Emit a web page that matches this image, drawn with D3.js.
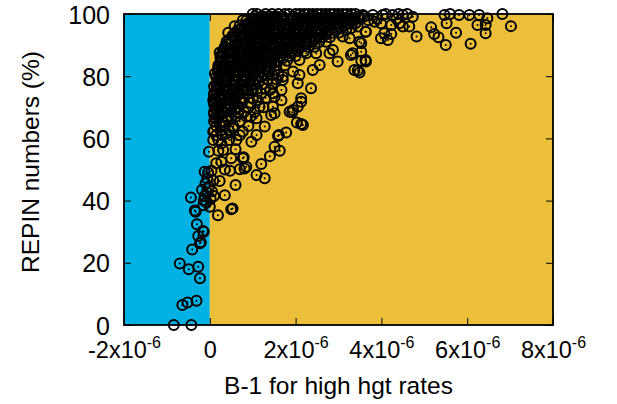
<!DOCTYPE html>
<html>
<head>
<meta charset="utf-8">
<script src="https://cdn.jsdelivr.net/npm/d3@7"></script>
<style>
  body { margin: 0; background: #fff; }
  text { font-family: "Liberation Sans", Arial, sans-serif; fill: #000; }
</style>
</head>
<body>
<svg width="617" height="404"></svg>
<script>
'use strict';

// x values are in units of 1e-6, y values in %
var xTicks = [-2, 0, 2, 4, 6, 8];
var yTicks = [0, 20, 40, 60, 80, 100];

// scattered points (blue side, lower tail, outer edge of cloud)
var scatterPts = [
  [-0.84,0],[-0.43,0],[-0.64,6.4],[-0.52,7.2],[-0.31,7.8],[-0.70,19.8],[-0.49,17.9],[-0.27,18.7],
  [-0.23,15.0],[-0.41,24.3],[-0.21,26.6],[-0.27,28.6],[-0.14,30.0],[-0.30,32.4],[-0.33,36.4],
  [-0.44,41.0],[-0.35,36.8],[-0.16,30.2],[-0.23,26.3],
  [-0.15,38.5],[-0.08,39.5],[-0.12,41.5],[-0.05,42.5],[-0.18,43.5],[-0.02,44.5],[-0.10,45.5],
  [0.02,40.5],[-0.06,47],[0.05,43],[-0.14,40],[0.0,38],[0.08,46.5],[-0.04,49],[0.1,41.5],
  [0.19,35.3],[0.50,37.2],[0.35,41.7],[0.53,37.5],[0.60,45],[0.23,46.3],[0.04,49.6],[-0.12,49.3],
  [0.47,49.6],[0.70,50.1],[0.85,50.9],[0.50,53.6],[0.77,53.6],[0.27,52.5],[0.81,50.3],[-0.02,55.7],
  [0.31,56.3],[0.27,58.4],[0.08,59.5],[0.08,62.2],[0.39,61.6],[0.62,59.5],[0.97,58.9],[1.09,48.2],
  [1.28,47.2],[1.20,51.8],[1.40,54.3],[1.51,57.3],[1.63,56.0],[1.61,61.1],[1.78,61.9],[1.92,68.4],
  [2.03,65.1],[2.13,64.6],[2.17,64.3],[1.43,67.5],[1.28,63.8],[1.09,61.1],[0.77,62.2],[0.54,63.2],
  [0.23,64.8],[0.12,66.5],[0.14,69.7],[0.85,67.0],[1.09,66.5],[0.43,65.9],[0.66,68.1],[0.47,70.2],
  [0.08,72.3],[1.16,70.2],[1.47,70.2],[0.79,53.9],[0.20,56],[0.15,52],[0.35,50],[0.60,56.5],
  [2.36,76.1],[2.13,71.8],[2.05,70.2],[1.94,69.1],[1.86,68.6],[1.59,60.8],
  [2.98,84.7],[3.37,82.0],[3.49,81.2],[3.64,84.7],[2.56,83.6],[2.40,82.0],[2.09,80.4],[2.05,77.7],
  [1.70,79.8],[1.67,72.3],[1.47,74.5],[1.51,68.1],[2.13,72.9],[3.45,81.8],
  [3.63,85.2],[3.53,87.9],[3.33,87.4],[3.26,92.2],[3.49,91.1],[3.63,94.3],[2.87,88.4],[2.71,91.1],
  [3.10,92.8],[3.18,94.9],[2.48,87.4],[2.25,87.4],[2.09,85.2],[1.94,81.5],[1.70,78.8],[3.29,86.8],
  [3.53,85.0],[2.79,87.4],
  [6.82,100],[7.02,96.1],[6.43,93.8],[6.43,96.5],[6.47,98.6],[6.24,96.5],[6.08,90.4],[6.28,99.7],
  [6.05,99.7],[5.81,99.7],[5.74,94.0],[5.52,97.0],[5.47,99.7],[5.50,90.0],[5.33,92.5],[5.23,93.6],
  [5.16,95.7],[4.82,92.8],[4.65,96.0],[4.50,96.0],[4.73,99.1],[4.50,99.7],[4.26,99.7],[4.03,99.7],
  [3.80,99.7],[3.57,99.7],[4.15,91.6],[3.99,92.2],[4.07,93.8],[4.23,93.6],[3.53,90.6],[4.23,96.5],
  [4.42,97.0],[3.99,97.0],[3.84,97.5],[3.64,94.3],[3.45,96.0],[3.70,98.0],
  [0.58,96.1],[0.43,94.0],[0.39,91.1],[0.23,87.6],[0.47,88.4],[0.66,90.6],[0.81,92.7],[0.19,82.0],
  [0.12,80.9],[0.23,79.8],[0.16,76.6],[0.12,72.9],[0.31,75.6],[0.43,74.0],[0.39,71.3],[0.66,84.1],
  [0.54,85.2],[0.74,82.0],[0.81,78.8],[0.97,75.6],[0.66,76.6],[0.58,72.3],[1.12,72.3],[1.51,73.4],
  [1.20,79.9],[1.05,86.3],[1.28,88.4],[0.97,91.6],[0.89,97.0],[1.20,99.1],[0.77,98.0],[1.51,99.1],
  [1.59,94.9],[1.43,92.7],[1.43,84.1],[1.40,75.6],[1.67,75.6]
];

// dense core of the cloud, row by row: [y, x values]
var denseRows = [
  [100,  [1.0,1.1,1.3,1.45,1.6,1.75,1.85,2.0,2.1,2.2,2.3,2.4,2.5,2.6,2.7,2.8,2.9,3.0,3.1,3.2,3.3,3.4,4.1,4.4,4.6,5.6]],
  [99.2, [1.05,1.25,1.4,1.55,1.7,1.95,2.15,2.35,2.45,2.65,2.75,2.95,3.05,3.25,3.45,3.6]],
  [98.5, [1.0,1.2,1.35,1.5,1.7,1.9,2.05,2.25,2.4,2.55,2.7,2.85,3.0,3.15,3.3,3.5,3.9,4.35]],
  [97.8, [0.85,1.05,1.2,1.4,1.55,1.75,1.9,2.1,2.3,2.45,2.6,2.75,2.9,3.05,3.2,3.35]],
  [97,   [0.95,1.1,1.3,1.45,1.65,1.8,1.95,2.15,2.35,2.5,2.65,2.8,2.95,3.1,3.25,3.4]],
  [96.3, [0.7,0.85,1.0,1.2,1.35,1.5,1.65,1.85,2.0,2.15,2.3,2.45,2.65,2.8,3.0,3.15]],
  [95.5, [0.75,0.9,1.05,1.25,1.4,1.55,1.75,1.9,2.05,2.2,2.4,2.55,2.7,2.9,3.05,3.3]],
  [94.8, [0.65,0.85,0.95,1.1,1.35,1.45,1.6,1.8,1.95,2.1,2.3,2.45,2.6,2.8,2.95]],
  [94,   [0.6,0.8,1.0,1.15,1.3,1.5,1.7,1.85,2.0,2.2,2.35,2.5,2.7,2.85,3.0]],
  [93.3, [0.55,0.75,0.95,1.05,1.2,1.35,1.55,1.65,1.8,2.0,2.15,2.3,2.55,2.7]],
  [92.5, [0.55,0.7,0.9,1.1,1.25,1.4,1.6,1.75,1.9,2.1,2.25,2.45,2.6,2.8]],
  [91.8, [0.45,0.6,0.8,0.95,1.15,1.3,1.45,1.6,1.8,1.95,2.1,2.3,2.45]],
  [91,   [0.5,0.65,0.85,1.05,1.2,1.35,1.55,1.7,1.85,2.0,2.2,2.35,2.55]],
  [90.3, [0.4,0.6,0.8,1.0,1.1,1.25,1.45,1.6,1.75,1.9,2.05,2.25]],
  [89.5, [0.35,0.55,0.75,0.95,1.15,1.3,1.5,1.65,1.8,1.95,2.1,2.3,2.45]],
  [88.8, [0.35,0.45,0.65,0.8,0.95,1.1,1.25,1.45,1.6,1.7,1.85,2.0]],
  [88,   [0.3,0.5,0.7,0.85,1.0,1.2,1.35,1.55,1.75,1.9,2.05,2.2]],
  [87.3, [0.3,0.4,0.55,0.75,0.9,1.05,1.2,1.4,1.55,1.7,1.9]],
  [86.5, [0.25,0.45,0.6,0.8,0.95,1.1,1.3,1.5,1.65,1.85,2.0]],
  [85.8, [0.25,0.4,0.55,0.75,0.85,1.0,1.15,1.35,1.5,1.7]],
  [85,   [0.3,0.45,0.7,0.9,1.05,1.25,1.4,1.6,1.8]],
  [84.3, [0.25,0.35,0.5,0.65,0.85,1.0,1.2,1.3,1.5]],
  [83.5, [0.2,0.4,0.55,0.8,0.95,1.15,1.35,1.55,1.75]],
  [82.8, [0.2,0.35,0.45,0.6,0.75,1.0,1.2,1.4]],
  [82,   [0.3,0.5,0.65,0.9,1.1,1.3,1.5]],
  [81.3, [0.2,0.35,0.55,0.7,0.85,1.05,1.15,1.35]],
  [80.5, [0.25,0.4,0.6,0.8,1.0,1.25,1.45,1.6]],
  [79.8, [0.15,0.3,0.45,0.65,0.85,1.0,1.2]],
  [79,   [0.2,0.35,0.55,0.75,0.95,1.1,1.35,1.55]],
  [78.3, [0.2,0.4,0.6,0.8,1.0,1.15]],
  [77.5, [0.15,0.3,0.5,0.7,0.9,1.05,1.25,1.45]],
  [76.8, [0.1,0.25,0.35,0.55,0.75,0.95]],
  [76,   [0.2,0.45,0.6,0.85,1.1,1.3]],
  [75.3, [0.15,0.35,0.55,0.8,1.0]],
  [74.5, [0.1,0.25,0.5,0.7,0.9,1.2]],
  [73.8, [0.1,0.3,0.45,0.65]],
  [73,   [0.2,0.35,0.6,0.8,1.0,1.3]],
  [72.3, [0.15,0.25,0.45,0.7]],
  [71.5, [0.1,0.3,0.55,0.75,0.95]],
  [70.8, [0.1,0.25,0.45]],
  [70,   [0.2,0.35,0.65,0.9,1.25]],
  [69.3, [0.15,0.4,0.6]],
  [68.5, [0.1,0.3,0.5,0.8,1.05]],
  [67.8, [0.1,0.25]],
  [67,   [0.2,0.4,0.6,0.95]],
  [66.3, [0.15,0.5]],
  [65.5, [0.1,0.3,0.7]],
  [64,   [0.15,0.35,0.55,0.9]],
  [62.5, [0.1,0.25,0.45]],
  [61,   [0.15,0.3,0.7]],
  [59.5, [0.2,0.45]]
];

var points = scatterPts.slice();
denseRows.forEach(function(r) {
  r[1].forEach(function(v) { points.push([v, r[0]]); });
});

var margin = {left: 124, right: 64, top: 14, bottom: 79};
var width = 617 - margin.left - margin.right;
var height = 404 - margin.top - margin.bottom;

var svg = d3.select('svg');
var canvas = svg.append('g')
    .attr('transform', 'translate(' + margin.left + ',' + margin.top + ')');

var x = d3.scaleLinear().domain([-2e-6, 8e-6]).range([0, width]);
var y = d3.scaleLinear().domain([0, 100]).range([height, 0]);

// background bands
canvas.append('rect')
    .attr('x', x(-2e-6)).attr('y', 0)
    .attr('width', x(0) - x(-2e-6)).attr('height', height)
    .attr('fill', '#00b2e3');
canvas.append('rect')
    .attr('x', x(0)).attr('y', 0)
    .attr('width', x(8e-6) - x(0)).attr('height', height)
    .attr('fill', '#ebbf3a');

function sciLabel(sel, v) {
  sel.text(null);
  if (v === 0) { sel.append('tspan').text('0'); return; }
  sel.append('tspan').text(v + 'x10');
  sel.append('tspan').attr('font-size', 16).attr('dy', -10).text('-6');
}

// axes, ticks pointing inward
var axisX = d3.axisBottom(x)
    .tickValues(xTicks.map(function(d) { return d * 1e-6; }))
    .tickSizeInner(-7).tickSizeOuter(0);
var axisXTop = d3.axisTop(x)
    .tickValues(xTicks.map(function(d) { return d * 1e-6; }))
    .tickSizeInner(-7).tickSizeOuter(0).tickFormat('');
var axisY = d3.axisLeft(y).tickValues(yTicks).tickSizeInner(-7).tickSizeOuter(0);
var axisYRight = d3.axisRight(y).tickValues(yTicks).tickSizeInner(-7).tickSizeOuter(0).tickFormat('');

var gx = canvas.append('g').attr('transform', 'translate(0,' + height + ')').call(axisX);
canvas.append('g').call(axisXTop);
var gy = canvas.append('g').call(axisY);
canvas.append('g').attr('transform', 'translate(' + width + ',0)').call(axisYRight);

canvas.selectAll('.domain').remove();
canvas.selectAll('.tick line').attr('stroke', '#000').attr('stroke-width', 1);

gx.selectAll('.tick text')
    .attr('y', 33).attr('dy', 0)
    .attr('font-size', 23.5)
    .each(function(d) { sciLabel(d3.select(this), Math.round(d * 1e6)); });

gy.selectAll('.tick text')
    .attr('x', -14).attr('dy', '0.36em')
    .attr('font-size', 25);

// frame
canvas.append('rect')
    .attr('width', width).attr('height', height)
    .attr('fill', 'none').attr('stroke', '#000').attr('stroke-width', 1.8);

// points: open circle with a dot in the middle
var pts = canvas.append('g').selectAll('g')
    .data(points)
    .enter().append('g')
    .attr('transform', function(d) { return 'translate(' + x(d[0] * 1e-6) + ',' + y(d[1]) + ')'; });
pts.append('circle').attr('r', 5)
    .attr('fill', 'none').attr('stroke', '#000').attr('stroke-width', 2);
pts.append('circle').attr('r', 1).attr('fill', '#000');

// axis titles
svg.append('text')
    .attr('x', margin.left + width / 2).attr('y', 394)
    .attr('text-anchor', 'middle').attr('font-size', 24.5)
    .text('B-1 for high hgt rates');
svg.append('text')
    .attr('transform', 'translate(39,' + 162 + ') rotate(-90)')
    .attr('text-anchor', 'middle').attr('font-size', 24.5)
    .text('REPIN numbers (%)');
</script>
</body>
</html>
